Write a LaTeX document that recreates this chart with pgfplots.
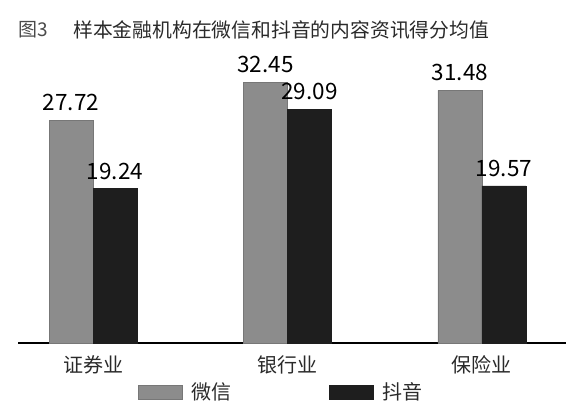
\documentclass[border=0pt]{standalone}
\usepackage{pgfplots}
\pgfplotsset{compat=1.18}
\usepackage{fontspec}
\setmainfont{Noto Sans CJK SC}
\definecolor{wx}{HTML}{8C8C8C}
\definecolor{dy}{HTML}{1E1E1E}
\definecolor{tt}{HTML}{2A2A2A}
\begin{document}
\begin{tikzpicture}[x=1pt,y=1pt]
\path[use as bounding box] (0,0) rectangle (583,409);
\node[anchor=west, inner sep=0, font=\fontsize{19}{22}\selectfont, text=tt!85] at (18,379) {图3};
\node[anchor=west, inner sep=0, font=\fontsize{19.8}{22}\selectfont, text=tt] at (73,379) {样本金融机构在微信和抖音的内容资讯得分均值};
\begin{axis}[at={(18pt,66pt)}, anchor=south west, scale only axis,
  width=548pt, height=281pt,
  xmin=-0.386, xmax=2.432, ymin=0, ymax=35,
  ybar=0pt, bar width=44pt,
  axis y line=none, axis x line*=bottom,
  x axis line style={-, line width=1.2pt, color=black},
  xtick={0,1,2}, xticklabels={证券业,银行业,保险业}, major tick length=0pt,
  xticklabel style={font=\fontsize{20}{24}\selectfont, anchor=base, yshift=-30pt, text=tt},
  ytick=\empty,
  nodes near coords,
  nodes near coords style={font=\fontsize{22.5}{26}\selectfont, anchor=south, inner sep=0pt, yshift=9pt, text=black,
    /pgf/number format/fixed, /pgf/number format/precision=2, /pgf/number format/fixed zerofill,
    /pgf/number format/assume math mode=true},
  legend columns=2,
  legend style={draw=none, fill=none, at={(0.219,-0.174)}, anchor=west,
    font=\fontsize{20}{24}\selectfont, inner sep=0pt, nodes={inner ysep=4pt, inner xsep=9pt, text=tt},
    /tikz/every even column/.append style={column sep=88pt}},
  legend image code/.code={\fill[#1] (0pt,-7pt) rectangle (44pt,7pt);},
  clip=false]
\addplot[fill=wx, draw=wx!85!black, line width=0.4pt] coordinates {(0,27.72) (1,32.45) (2,31.48)};
\addplot[fill=dy, draw=dy, line width=0.4pt] coordinates {(0,19.24) (1,29.09) (2,19.57)};
\legend{微信,抖音}
\end{axis}
\end{tikzpicture}
\end{document}
